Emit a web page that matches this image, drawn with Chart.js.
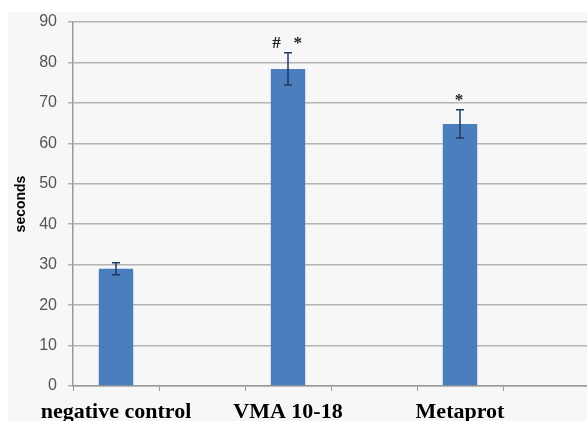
<!DOCTYPE html>
<html>
<head>
<meta charset="utf-8">
<script src="https://cdn.jsdelivr.net/npm/chart.js@4/dist/chart.umd.min.js"></script>
<style>
html,body{margin:0;padding:0;background:#ffffff;overflow:hidden;width:587px;height:421px;}
#wrap{position:absolute;left:8px;top:12px;width:590px;height:409px;background:#f7f7f7;}
canvas{display:block;}
</style>
</head>
<body>
<div id="wrap"><canvas id="c" width="590" height="409"></canvas></div>
<script>
const categories = ["negative control", "", "VMA 10-18", "", "Metaprot", ""];
const values = [29, null, 78.4, null, 64.8, null];
const errors = [1.5, null, 4.0, null, 3.5, null];
const marks = ["", "", "#   *", "", "*", ""];
const yTicks = [0, 10, 20, 30, 40, 50, 60, 70, 80, 90];

const errorBarPlugin = {
  id: 'errorBars',
  afterDatasetsDraw(chart) {
    const ctx = chart.ctx;
    const meta = chart.getDatasetMeta(0);
    const ys = chart.scales.y;
    ctx.save();
    ctx.strokeStyle = '#1f3a66';
    ctx.lineWidth = 1.5;
    meta.data.forEach((bar, i) => {
      if (values[i] == null) return;
      const x = bar.x;
      const yTop = ys.getPixelForValue(values[i] + errors[i]);
      const yBot = ys.getPixelForValue(values[i] - errors[i]);
      ctx.beginPath();
      ctx.moveTo(x, yTop); ctx.lineTo(x, yBot);
      ctx.moveTo(x - 4, yTop); ctx.lineTo(x + 4, yTop);
      ctx.moveTo(x - 4, yBot); ctx.lineTo(x + 4, yBot);
      ctx.stroke();
      if (marks[i]) {
        ctx.fillStyle = '#222';
        ctx.font = 'bold 17px "Liberation Serif"';
        ctx.textAlign = 'center';
        ctx.textBaseline = 'alphabetic';
        ctx.fillText(marks[i], x - 1, yTop - 5);
      }
    });
    ctx.restore();
  }
};

new Chart(document.getElementById('c'), {
  type: 'bar',
  data: {
    labels: categories,
    datasets: [{
      data: values,
      backgroundColor: '#4a7ebd',
      borderWidth: 0,
      barPercentage: 0.4,
      categoryPercentage: 1.0
    }]
  },
  options: {
    responsive: false,
    animation: false,
    layout: { padding: { top: 10, right: 9, bottom: 0, left: 0 } },
    plugins: { legend: { display: false }, tooltip: { enabled: false } },
    scales: {
      x: {
        offset: true,
        grid: { display: true, offset: true, drawOnChartArea: false, drawTicks: true, tickLength: 5, color: '#999999', lineWidth: 1 },
        border: { display: true, color: '#999999', width: 1.5 },
        ticks: { color: '#000000', font: { family: '"Liberation Serif"', weight: 'bold', size: 22 }, padding: 8, maxRotation: 0, autoSkip: false },
        afterFit(s) { s.height = 35; s.paddingLeft = 0; s.paddingRight = 0; }
      },
      y: {
        min: 0, max: 90,
        afterBuildTicks(s) { s.ticks = yTicks.map(v => ({ value: v })); },
        grid: { color: '#b4b4b4', lineWidth: 1.5, tickLength: 5, drawTicks: true },
        border: { display: true, color: '#999999', width: 1.5 },
        ticks: { color: '#555555', font: { family: '"Liberation Sans"', size: 16 }, padding: 11 },
        title: { display: true, text: 'seconds', color: '#000000', font: { family: '"Liberation Sans"', weight: 'bold', size: 14 }, padding: { top: 5, bottom: 0 } },
        afterFit(s) { s.width = 65; s.paddingTop = 0; s.paddingBottom = 0; }
      }
    }
  },
  plugins: [errorBarPlugin]
});
</script>
</body>
</html>
